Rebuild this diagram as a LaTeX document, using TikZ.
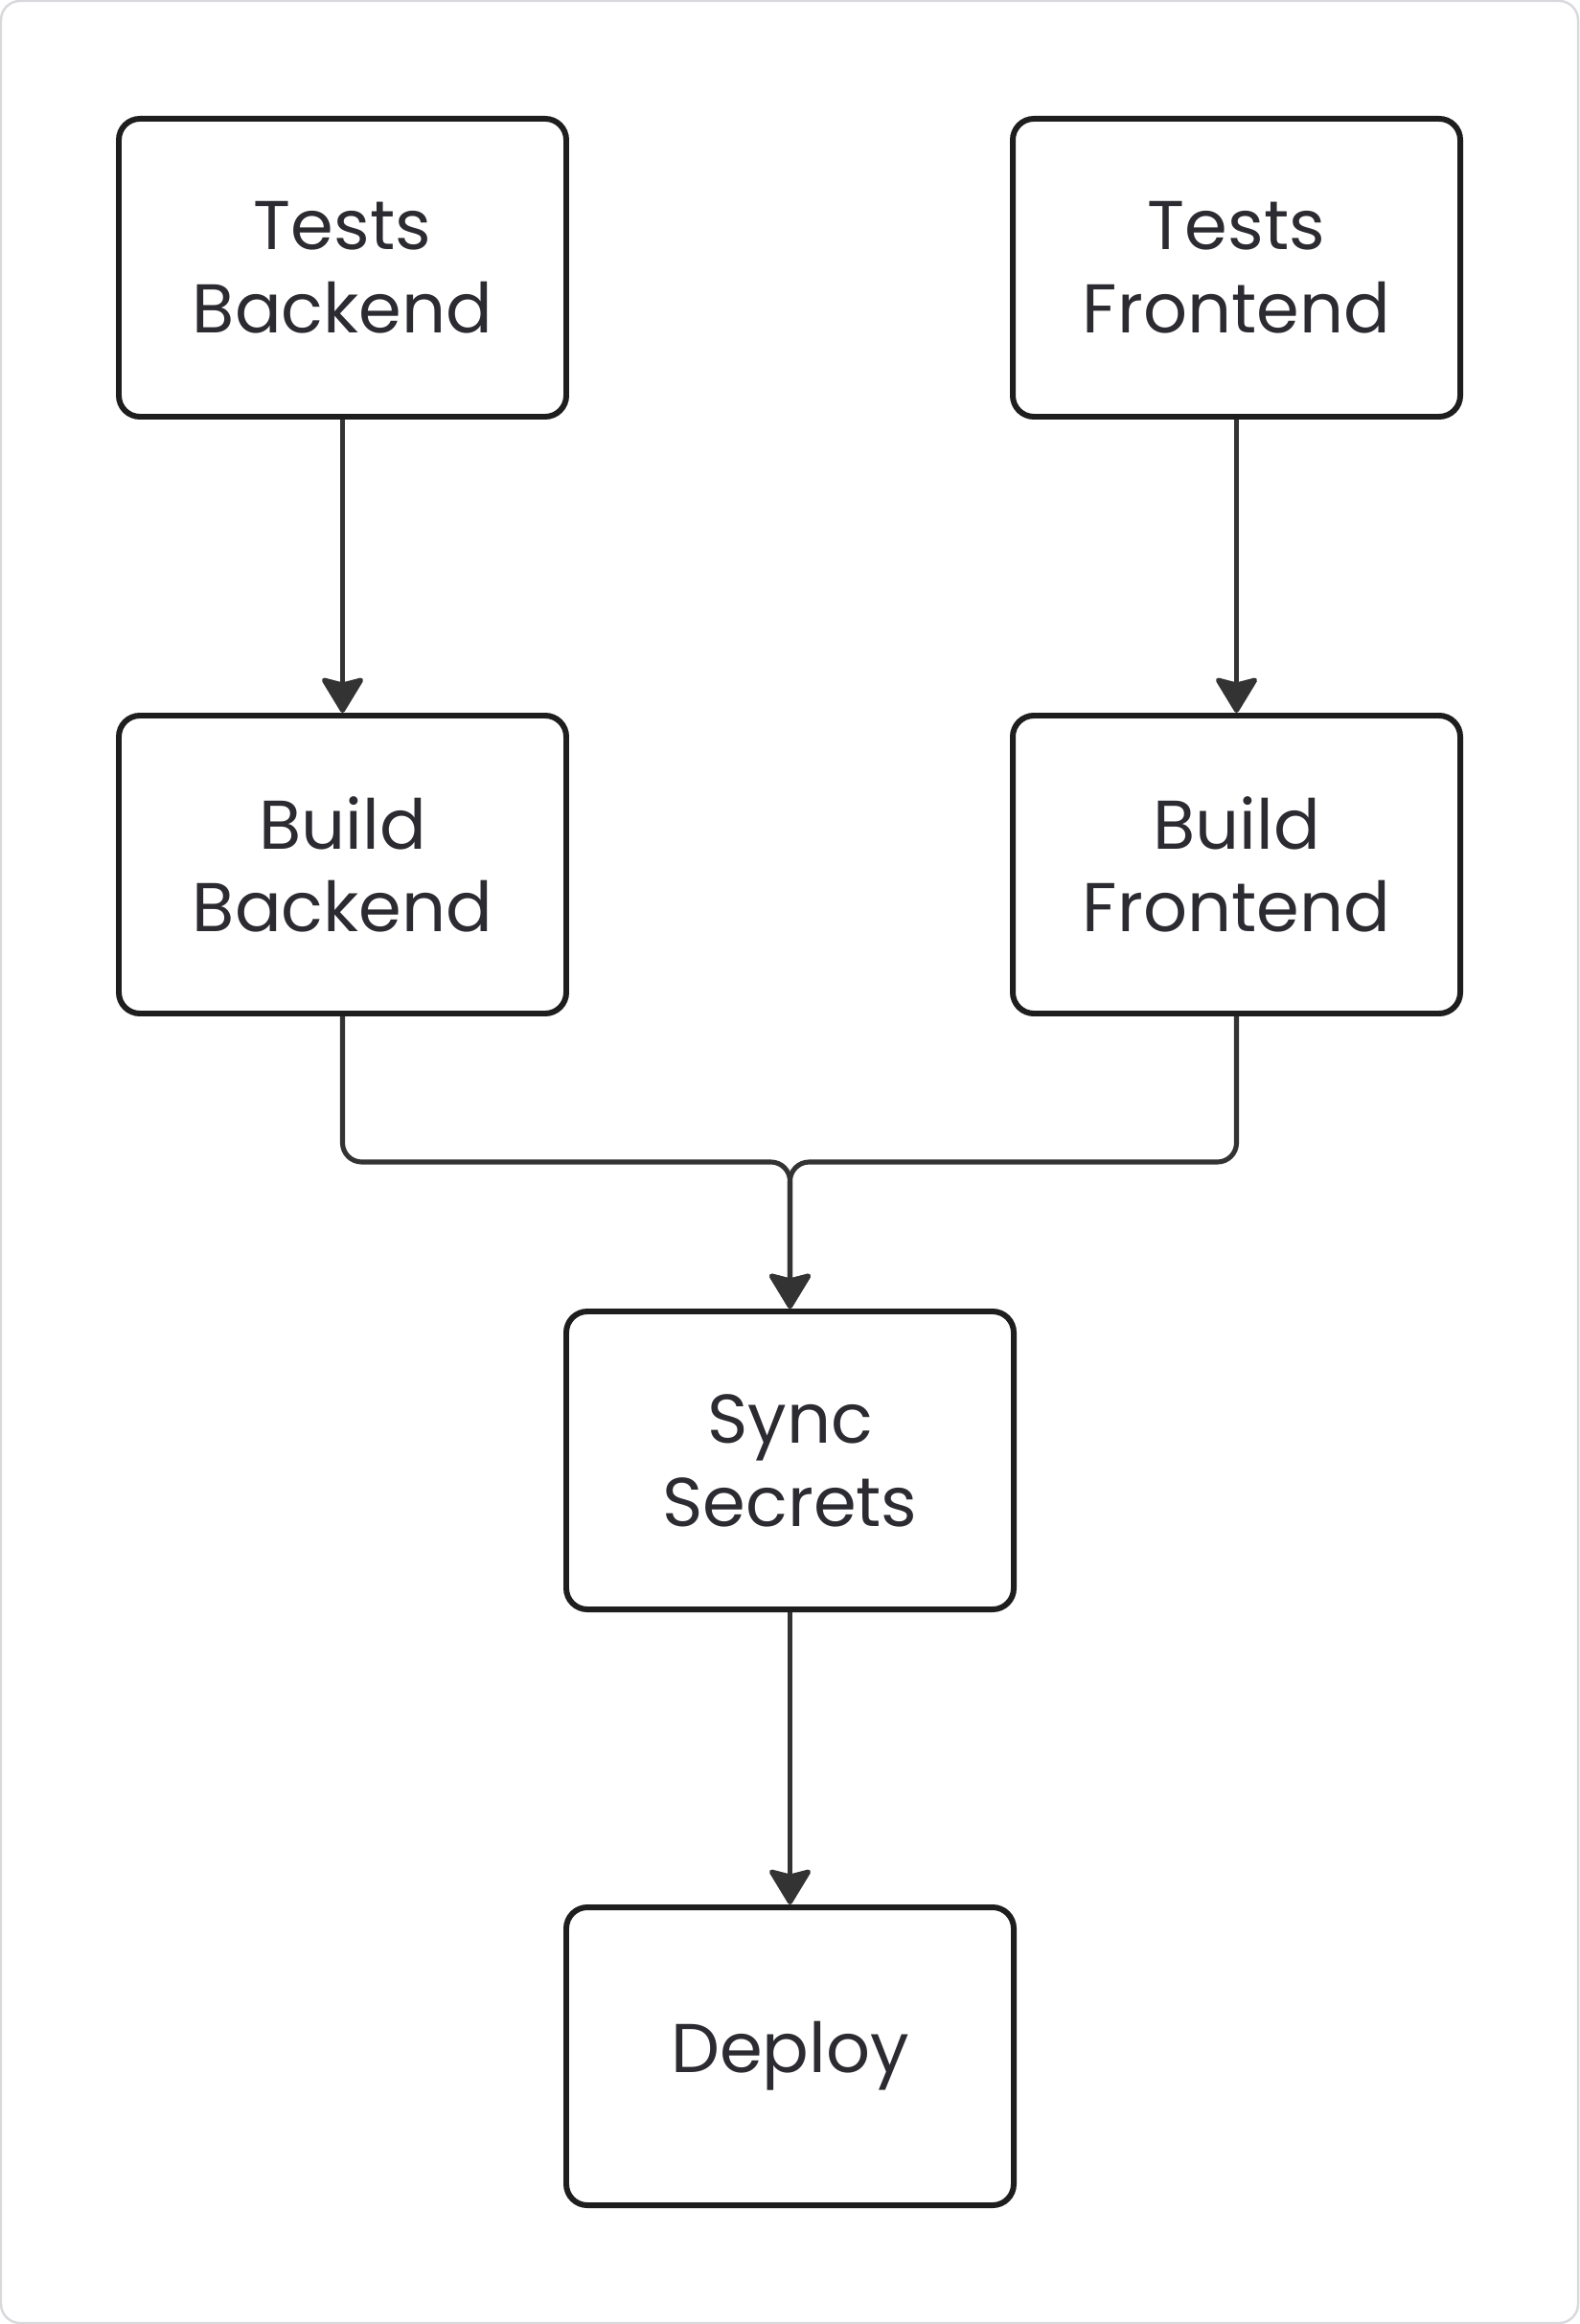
\documentclass[tikz,border=0pt]{standalone}
\usepackage{fontspec}
\setmainfont{Poppins}
\usepackage{tikz}
\usetikzlibrary{arrows.meta}

\definecolor{boxline}{HTML}{1E1E1E}
\definecolor{boxtext}{HTML}{2B2B31}
\definecolor{wire}{HTML}{333333}
\definecolor{frame}{HTML}{D9D9DD}

\begin{document}
\begin{tikzpicture}[
    job/.style = {draw = boxline, line width = 1.7pt, rounded corners = 0.22cm,
      minimum width = 4.67cm, minimum height = 3.11cm, align = center,
      text = boxtext, font = \fontsize{20.5pt}{24.7pt}\selectfont},
    flow/.style = {draw = wire, line width = 1.45pt, rounded corners = 0.2cm,
      -{Stealth[length = 0.4cm, width = 0.48cm, inset = 0.06cm, round]}}
  ]
  \useasboundingbox (0,0) rectangle (16.48,-24.26);
  \draw[frame, line width = 0.7pt, rounded corners = 0.2cm]
    (0.01,-0.01) rectangle (16.47,-24.25);

  % Jobs
  \node[job] (testsB) at (3.575, -2.795)  {Tests\\Backend};
  \node[job] (testsF) at (12.905, -2.795) {Tests\\Frontend};
  \node[job] (buildB) at (3.575, -9.025)  {Build\\Backend};
  \node[job] (buildF) at (12.905, -9.025) {Build\\Frontend};
  \node[job] (sync)   at (8.245, -15.245) {Sync\\Secrets};
  \node[job] (deploy) at (8.245, -21.465) {Deploy};

  % Dependencies
  \coordinate (join) at (8.245, -12.13);
  \draw[flow] (testsB) -- (buildB);
  \draw[flow] (testsF) -- (buildF);
  \draw[flow] (buildB.south) -- (buildB.south |- join) -- (join) -- (sync.north);
  \draw[flow] (buildF.south) -- (buildF.south |- join) -- (join) -- (sync.north);
  \draw[flow] (sync) -- (deploy);

\end{tikzpicture}
\end{document}
